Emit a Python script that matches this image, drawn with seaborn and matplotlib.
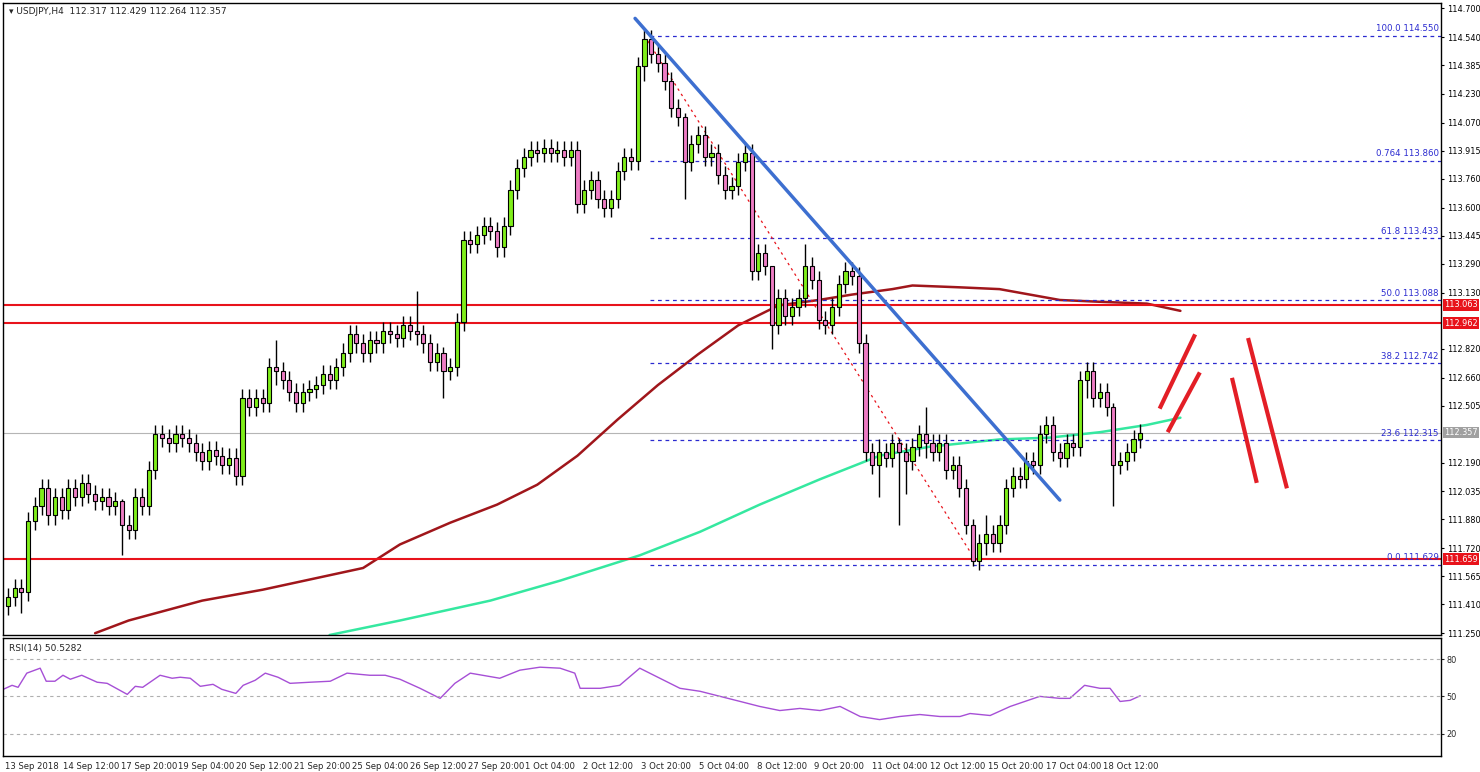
import numpy as np
import pandas as pd
import matplotlib
matplotlib.use("Agg")
import matplotlib.pyplot as plt
import seaborn as sns

closes = [111.45,111.50,111.48,111.87,111.95,112.05,111.90,112.00,111.93,112.05,
          112.00,112.08,112.02,111.98,112.00,111.95,111.98,111.85,111.82,112.00,
          111.95,112.15,112.35,112.33,112.30,112.35,112.33,112.30,112.25,112.20,
          112.26,112.23,112.18,112.22,112.12,112.55,112.50,112.55,112.52,112.72,
          112.70,112.65,112.58,112.52,112.58,112.60,112.62,112.68,112.65,112.72,
          112.80,112.90,112.85,112.80,112.87,112.85,112.92,112.90,112.88,112.95,
          112.92,112.90,112.85,112.75,112.80,112.70,112.72,112.97,113.42,113.40,
          113.45,113.50,113.47,113.38,113.50,113.70,113.82,113.88,113.92,113.90,
          113.93,113.90,113.92,113.88,113.92,113.62,113.70,113.75,113.65,113.60,
          113.65,113.80,113.88,113.86,114.38,114.53,114.45,114.40,114.30,114.15,
          114.10,113.85,113.95,114.00,113.88,113.90,113.78,113.70,113.72,113.85,
          113.90,113.25,113.35,113.28,112.95,113.10,113.00,113.05,113.10,113.28,
          113.20,112.98,112.95,113.05,113.18,113.25,113.22,112.85,112.25,112.18,
          112.25,112.22,112.30,112.25,112.20,112.28,112.35,112.30,112.25,112.30,
          112.15,112.18,112.05,111.85,111.65,111.75,111.80,111.75,111.85,112.05,
          112.12,112.10,112.20,112.18,112.35,112.40,112.25,112.22,112.30,112.28,
          112.65,112.70,112.55,112.58,112.50,112.18,112.20,112.25,112.32,112.357]
first_open = 111.40
# notable wick extremes: index -> (high, low)
wicks = {2: (111.55, 111.36), 17: (111.99, 111.68), 40: (112.87, 112.62),
         61: (113.14, 112.84), 65: (112.83, 112.55), 95: (114.58, 114.30),
         101: (114.12, 113.65), 114: (113.28, 112.82), 119: (113.40, 113.05),
         130: (112.32, 112.00), 133: (112.33, 111.85), 134: (112.30, 112.02),
         137: (112.50, 112.22), 144: (111.88, 111.62), 146: (111.90, 111.68),
         161: (112.75, 112.55), 165: (112.52, 111.95)}
wick_pad = 0.05

ma100_idx = [13,18,29,38,48,53,58.5,66,73,79,85,91,97,103,109,115,121,126,132,135,142,148,152.5,157,163,170,175]
ma100_val = [111.25,111.32,111.43,111.49,111.57,111.61,111.74,111.86,111.96,112.07,112.23,112.43,112.62,112.79,
             112.95,113.06,113.09,113.12,113.15,113.17,113.16,113.15,113.12,113.09,113.08,113.07,113.03]
ma200_idx = [48,58.5,72,82.4,94.3,103.3,112.2,121.2,130.1,137.6,148,155.5,163,170,175]
ma200_val = [111.24,111.32,111.43,111.54,111.68,111.81,111.96,112.10,112.23,112.28,112.32,112.33,112.36,112.40,112.44]

rsi_idx = [-0.7,0.6,1.5,2.8,4.8,5.7,7,8.2,9.3,11,13.3,14.8,17.8,19,20.1,22.7,24.5,25.7,27.2,28.7,30.6,31.9,34,35.1,
           36.9,38.4,40.3,42.1,45.1,48.1,50.6,54,56.3,58.5,61.5,64.5,66.7,69,73.4,76.4,79.4,82.4,84.6,85.4,88.4,91.3,
           94.3,97.3,100.3,103.3,106.3,109.3,112.2,115.2,118.2,121.2,124.2,127.2,130.1,133.1,136.1,139.1,142.1,143.6,
           146.6,149.6,154,157,158.5,160.7,163,164.5,166,167.5,169]
rsi_val = [55.7,58.9,57.3,68.7,72.7,62.2,62.2,67,63.8,67,61.4,60.5,51.6,58.1,57.3,67,64.6,65.4,64.6,58.1,59.7,55.7,
           52.4,58.9,63,68.7,65.4,60.5,61.4,62.2,68.7,67,67,63.8,56.5,48.4,60.5,68.7,64.6,71.1,73.5,72.7,68.7,56.5,
           56.5,58.9,72.7,64.6,56.5,54.1,50,45.9,41.9,38.6,40.3,38.6,41.9,33.8,31.3,33.8,35.4,33.8,33.8,36.2,34.6,
           41.9,50,48.4,48.4,58.9,56.5,56.5,45.9,46.8,50.5]

fib_levels = [114.550, 113.860, 113.433, 113.088, 112.742, 112.315, 111.629]
fib_names = ["100.0", "0.764", "61.8", "50.0", "38.2", "23.6", "0.0"]
red_levels = [113.063, 112.962, 111.659]
current = 112.357

trend_blue = ([93.6, 157.0], [114.645, 111.985])
fib_diag = ([95.5, 144.8], [114.52, 111.63])
arrows = [([171.9, 177.2], [112.49, 112.90]), ([173.1, 177.9], [112.36, 112.69]),
          ([182.7, 186.4], [112.66, 112.08]), ([185.1, 190.9], [112.88, 112.05])]

price_ticks = [114.700,114.540,114.385,114.230,114.070,113.915,113.760,113.600,113.445,113.290,113.130,
               112.820,112.660,112.505,112.190,112.035,111.880,111.720,111.565,111.410,111.250]
date_labels = ["13 Sep 2018","14 Sep 12:00","17 Sep 20:00","19 Sep 04:00","20 Sep 12:00","21 Sep 20:00",
               "25 Sep 04:00","26 Sep 12:00","27 Sep 20:00","1 Oct 04:00","2 Oct 12:00","3 Oct 20:00",
               "5 Oct 04:00","8 Oct 12:00","9 Oct 20:00","11 Oct 04:00","12 Oct 12:00","15 Oct 20:00",
               "17 Oct 04:00","18 Oct 12:00"]

sns.set_style("white")
plt.rcParams['font.family'] = ['DejaVu Sans']

fig = plt.figure(figsize=(14.8, 7.72), dpi=100)
fig.patch.set_facecolor("white")
AXW = 1438
ax = fig.add_axes([3/1480, 1-635/772, AXW/1480, 632/772])
ax2 = fig.add_axes([3/1480, 1-756/772, AXW/1480, 118/772])

XMIN, XMAX = -0.75, 213.9
YMIN, YMAX = 111.24, 114.73
ax.set_xlim(XMIN, XMAX)
ax.set_ylim(YMIN, YMAX)

opens = [first_open] + closes[:-1]
up_c, dn_c = "#7fee1a", "#ee7cc4"
for i, (o, c) in enumerate(zip(opens, closes)):
    hi, lo = wicks.get(i, (max(o, c) + wick_pad, min(o, c) - wick_pad))
    ax.vlines(i, lo, hi, color="black", lw=1, zorder=3)
    b = min(o, c); h = max(abs(c - o), 0.008)
    ax.bar(i, h, bottom=b, width=0.62, color=up_c if c >= o else dn_c,
           edgecolor="black", linewidth=0.8, zorder=4)

ma = pd.DataFrame({"i": ma100_idx, "v": ma100_val})
sns.lineplot(data=ma, x="i", y="v", ax=ax, color="#a0161b", lw=1.8, zorder=2)
mg = pd.DataFrame({"i": ma200_idx, "v": ma200_val})
sns.lineplot(data=mg, x="i", y="v", ax=ax, color="#35e8a0", lw=1.8, zorder=2)

for lv in red_levels:
    ax.axhline(lv, color="#e8131b", lw=1.5, zorder=2)
ax.axhline(current, color="#b5b5b5", lw=0.8, zorder=1)
for lv, nm in zip(fib_levels, fib_names):
    ax.hlines(lv, 95.8, XMAX, color="#2a2ad0", lw=0.9, linestyles=(0, (3, 3)), zorder=2)
    ax.text(XMAX - 0.3, lv + 0.012, f"{nm} {lv:.3f}", color="#2a2ad0", fontsize=6.2,
            ha="right", va="bottom", zorder=5)
ax.plot(*fib_diag, color="#e8131b", lw=0.9, ls=(0, (2, 3)), zorder=2)
ax.plot(*trend_blue, color="#3d6fd0", lw=2.5, zorder=5)
for xs, ys in arrows:
    ax.plot(xs, ys, color="#e31e26", lw=3, zorder=5, solid_capstyle="butt")

ax.yaxis.tick_right()
ax.set_yticks(price_ticks)
ax.set_yticklabels([f"{t:.3f}" for t in price_ticks], fontsize=5.9)
ax.tick_params(axis="y", length=2.5, pad=1.5, colors="black")
ax.set_xticks([]); ax.set_xlabel(""); ax.set_ylabel("")
for lv, col in [(113.063, "#e8131b"), (112.962, "#e8131b"), (111.659, "#e8131b"), (current, "#a0a0a0")]:
    ax.text(1.002, (lv - YMIN) / (YMAX - YMIN), f"{lv:.3f}", transform=ax.transAxes, fontsize=5.9,
            color="white", ha="left", va="center",
            bbox=dict(boxstyle="square,pad=0.15", fc=col, ec="none"))
ax.text(0.004, 0.993, "▾ USDJPY,H4  112.317 112.429 112.264 112.357", transform=ax.transAxes,
        fontsize=6.5, va="top", ha="left")
for s in ax.spines.values():
    s.set_color("black"); s.set_linewidth(1)

rs = pd.DataFrame({"i": rsi_idx, "v": rsi_val})
sns.lineplot(data=rs, x="i", y="v", ax=ax2, color="#a64fd6", lw=1)
ax2.set_xlim(XMIN, XMAX)
ax2.set_ylim(2, 97)
for lv in [80, 50, 20]:
    ax2.axhline(lv, color="#b0b0b0", lw=0.8, ls=(0, (3, 3)))
ax2.yaxis.tick_right()
ax2.set_yticks([80, 50, 20])
ax2.set_yticklabels(["80", "50", "20"], fontsize=5.9)
ax2.tick_params(axis="y", length=2.5, pad=1.5)
ax2.set_ylabel(""); ax2.set_xlabel("")
ax2.text(0.004, 0.95, "RSI(14) 50.5282", transform=ax2.transAxes, fontsize=6.5, va="top")
pos = [-0.45 + 8.63 * k for k in range(len(date_labels))]
ax2.set_xticks(pos)
ax2.set_xticklabels(date_labels, fontsize=6.1, ha="left")
ax2.tick_params(axis="x", length=3, pad=1)
for s in ax2.spines.values():
    s.set_color("black"); s.set_linewidth(1)

fig.savefig("out.png", dpi=100, facecolor="white")
